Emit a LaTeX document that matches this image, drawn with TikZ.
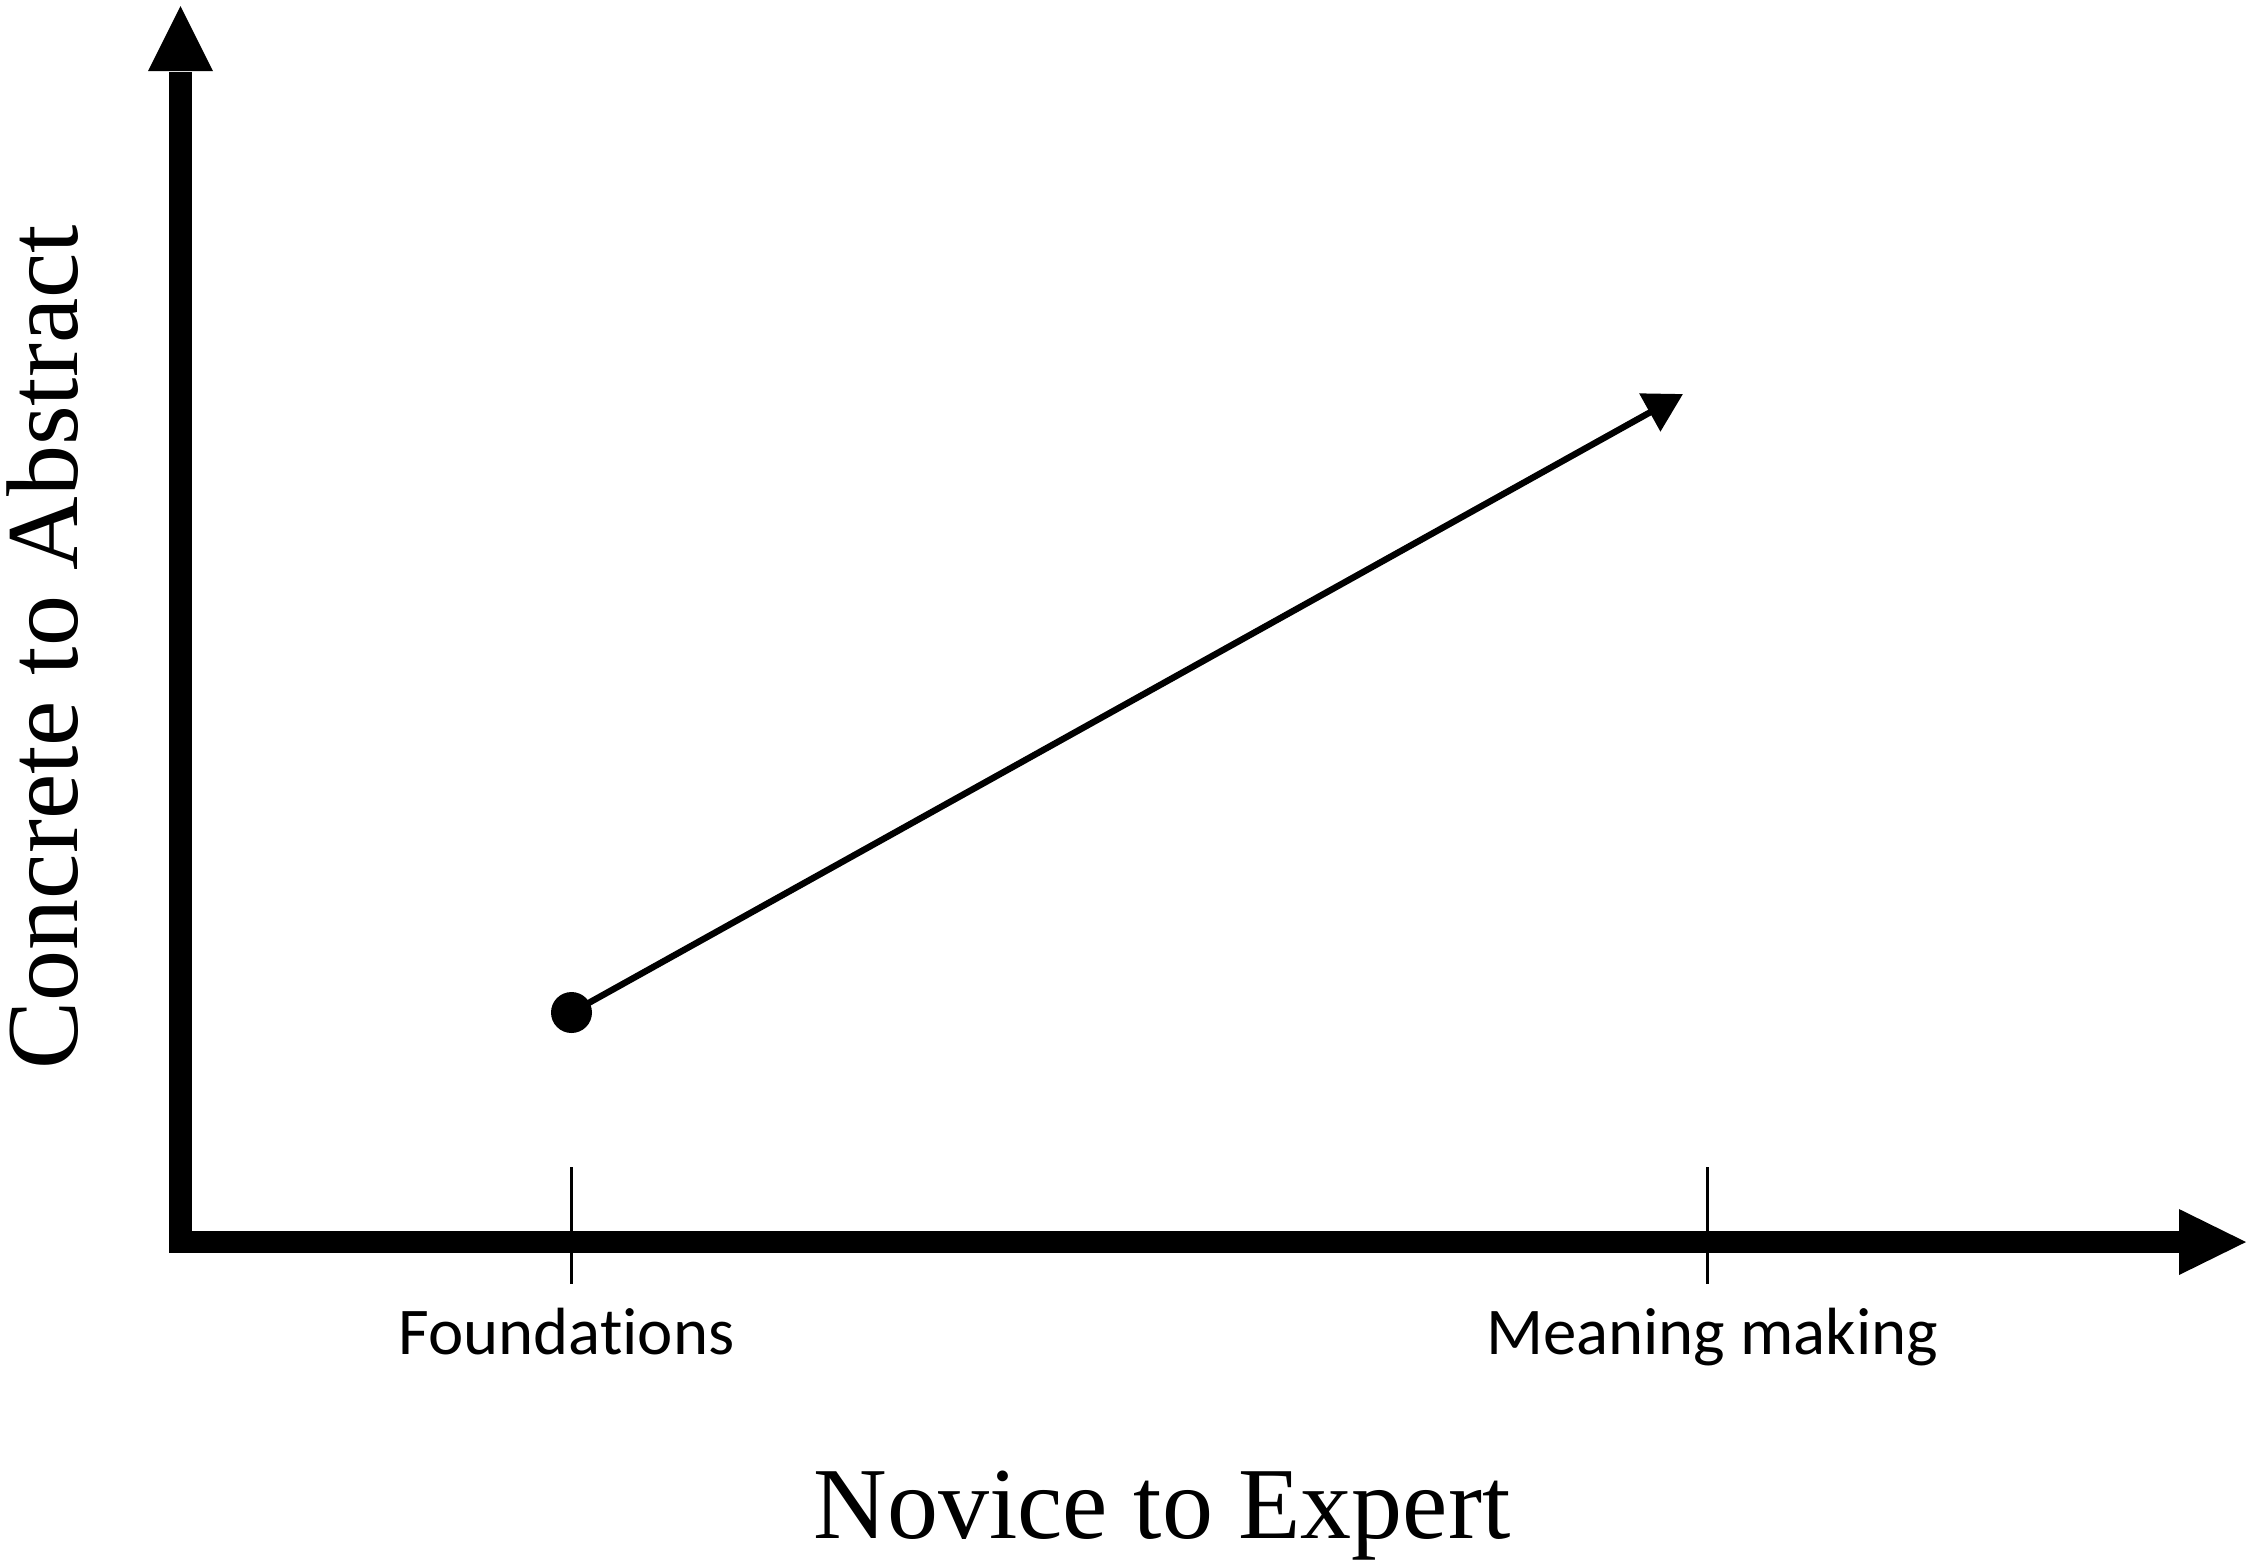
\documentclass[tikz,border=0pt]{standalone}
\usepackage{fontspec}
\setmainfont{Liberation Serif}
\newfontfamily\labelfont[Ligatures=NoCommon,RawFeature={-liga;-clig;-calt;-dlig}]{Carlito}
\usetikzlibrary{arrows.meta}
\begin{document}
\begin{tikzpicture}[x=0.25pt,y=-0.25pt,
  axisline/.style={line width=5.625pt,line join=miter,line cap=butt},
  axishead/.style={fill=black,draw=none},
  tickline/.style={line width=0.75pt},
  ticklabel/.style={font=\labelfont\fontsize{16.7pt}{20pt}\selectfont,anchor=base,inner sep=0pt},
  axislabel/.style={font=\fontsize{25.5pt}{30pt}\selectfont,anchor=base,inner sep=0pt},
  startdot/.style={circle,fill=black,inner sep=0pt,minimum size=10.25pt},
  trend/.style={line width=1.6pt,-{Triangle[length=9.5pt,width=10.5pt]}}]
\useasboundingbox (0,0) rectangle (2252,1567);
% axes
\coordinate (ytop) at (180.5,72);
\coordinate (origin) at (180.5,1242);
\coordinate (xend) at (2180,1242);
\draw[axisline] (ytop) -- (origin) -- (xend);
\fill[axishead] (148,71) -- (180.5,6) -- (213,71) -- cycle;
\fill[axishead] (2179,1209) -- (2246,1242) -- (2179,1275) -- cycle;
% ticks
\coordinate (t1a) at (571,1167);
\coordinate (t1b) at (571,1284);
\coordinate (t2a) at (1707,1167);
\coordinate (t2b) at (1707,1284);
\draw[tickline] (t1a) -- (t1b);
\draw[tickline] (t2a) -- (t2b);
% labels
\node[ticklabel] (found) at (566.5,1354) {Foundat\kern0pt ions};
\node[ticklabel] (meaning) at (1712,1354) {Meaning making};
\node[axislabel] (xlab) at (1162,1538) {Novice to Expert};
\node[axislabel,rotate=90] (ylab) at (78,647) {Concrete to Abstract};
% trend arrow
\node[startdot] (dot) at (571.5,1012.5) {};
\coordinate (tip) at (1683,394);
\draw[trend] (dot.center) -- (tip);
\end{tikzpicture}
\end{document}
